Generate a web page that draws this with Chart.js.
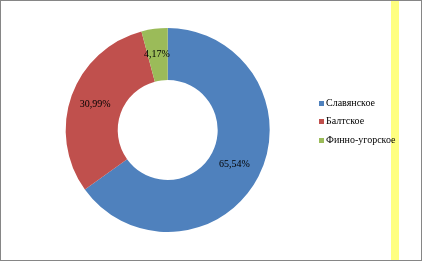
<!DOCTYPE html>
<html>
<head>
<meta charset="utf-8">
<script src="https://cdn.jsdelivr.net/npm/chart.js@4.4.1/dist/chart.umd.min.js"></script>
<style>
  html, body { margin: 0; padding: 0; background: #fff; }
  #wrap { position: relative; width: 422px; height: 261px; overflow: hidden; background: #fff; }
  #c { position: absolute; left: 0; top: 0; }
  #stripe { position: absolute; left: 391px; top: 0; width: 8px; height: 261px; background: #FFFF80; }
  #frame { position: absolute; left: 0; top: 0; width: 422px; height: 261px; box-sizing: border-box; border: 1px solid #868686; pointer-events: none; }
  #legend { position: absolute; left: 319px; top: 94px; font-family: "Times New Roman", "Liberation Serif", "DejaVu Serif", serif; font-size: 10px; color: #000; }
  .item { position: relative; height: 18.3px; line-height: 18px; white-space: nowrap; }
  .sw { display: inline-block; width: 5px; height: 5px; margin-right: 2px; vertical-align: 0px; }
</style>
</head>
<body>
<div id="wrap">
  <div id="stripe"></div>
  <canvas id="c" width="422" height="261"></canvas>
  <div id="legend"></div>
  <div id="frame"></div>
</div>
<script>
const categories = ["Славянское", "Балтское", "Финно-угорское"];
const values = [65.54, 30.99, 4.17];
const valueLabels = ["65,54%", "30,99%", "4,17%"];
const colors = ["#4F81BD", "#C0504D", "#9BBB59"];

const labelPlugin = {
  id: 'sliceLabels',
  afterDatasetsDraw(chart) {
    const ctx = chart.ctx;
    const meta = chart.getDatasetMeta(0);
    ctx.save();
    ctx.font = "10px 'Times New Roman', 'Liberation Serif', serif";
    ctx.fillStyle = '#000';
    ctx.textAlign = 'center';
    ctx.textBaseline = 'middle';
    meta.data.forEach((arc, i) => {
      const p = arc.tooltipPosition();
      ctx.fillText(valueLabels[i], p.x - 1, p.y);
    });
    ctx.restore();
  }
};

new Chart(document.getElementById('c'), {
  type: 'doughnut',
  data: {
    labels: categories,
    datasets: [{
      data: values,
      backgroundColor: colors,
      borderWidth: 0
    }]
  },
  options: {
    responsive: false,
    animation: false,
    cutout: '49%',
    layout: { padding: { left: 65.7, right: 152.3, top: 28, bottom: 29 } },
    plugins: {
      legend: { display: false },
      tooltip: { enabled: false }
    }
  },
  plugins: [labelPlugin]
});

const lg = document.getElementById('legend');
categories.forEach((name, i) => {
  const d = document.createElement('div');
  d.className = 'item';
  d.innerHTML = '<span class="sw" style="background:' + colors[i] + '"></span>' + name;
  lg.appendChild(d);
});
</script>
</body>
</html>
